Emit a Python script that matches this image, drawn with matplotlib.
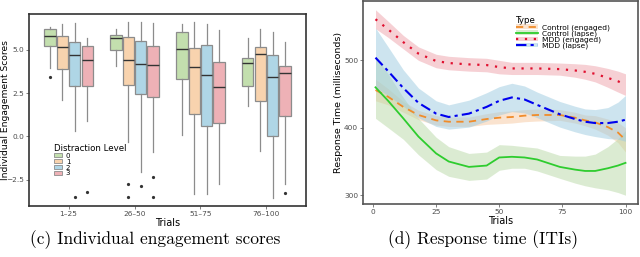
import matplotlib
matplotlib.use("Agg")
import matplotlib.pyplot as plt
from matplotlib.patches import Patch
from matplotlib.lines import Line2D

# ---------------- Data: panel (c) ----------------
groups = ["1\u201325", "26\u201350", "51\u201375", "76\u2013100"]
levels = ["0", "1", "2", "3"]
level_colors = ["#c3dfae", "#f8d3ae", "#afd6e6", "#eeb1b6"]
# each entry: (whislo, q1, med, q3, whishi, [outliers])
box_l0 = [(3.93, 5.19, 5.81, 6.20, 6.30, [3.41]),
          (4.07, 5.00, 5.64, 5.87, 6.20, []),
          (0.06, 3.31, 5.06, 6.03, 6.45, []),
          (1.76, 2.93, 4.22, 4.50, 5.68, [])]
box_l1 = [(2.09, 3.90, 5.16, 5.78, 6.49, []),
          (-0.33, 2.97, 4.42, 5.72, 6.59, [-2.75, -3.49]),
          (-3.29, 1.32, 3.99, 5.10, 6.59, []),
          (-0.85, 2.05, 4.75, 5.16, 6.20, [])]
box_l2 = [(0.29, 2.91, 4.67, 5.43, 6.55, [-3.49]),
          (-2.02, 2.44, 4.19, 5.48, 6.59, [-2.85]),
          (-3.33, 0.62, 3.53, 5.25, 6.49, []),
          (-3.53, 0.02, 3.45, 4.67, 6.03, [])]
box_l3 = [(0.89, 2.91, 4.42, 5.19, 5.68, [-3.18]),
          (-0.91, 2.29, 4.09, 5.19, 6.55, [-2.33, -3.49]),
          (-2.75, 0.79, 2.83, 4.28, 6.12, []),
          (-2.75, 1.18, 3.64, 4.03, 5.45, [-3.28])]
boxes = [box_l0, box_l1, box_l2, box_l3]

# ---------------- Data: panel (d) ----------------
types = ["Control (engaged)", "Control (lapse)", "MDD (engaged)", "MDD (lapse)"]
trials = [1, 6, 12, 18, 25, 30, 38, 45, 50, 55, 60, 65, 74, 80, 84, 88, 93, 97, 100]
ctrl_eng = [456, 446, 431, 419, 411, 409, 409, 413, 415, 416, 418, 419, 419, 415, 411, 408, 401, 393, 382]
ctrl_eng_lo = [440, 434, 423, 412, 404, 402, 402, 405, 406, 407, 409, 410, 411, 407, 403, 398, 389, 378, 364]
ctrl_eng_hi = [472, 458, 439, 426, 418, 416, 416, 421, 424, 425, 427, 428, 427, 423, 419, 418, 413, 408, 400]
ctrl_lap = [460, 440, 414, 387, 362, 350, 342, 344, 356, 357, 356, 353, 342, 338, 336, 336, 340, 344, 348]
ctrl_lap_lo = [414, 400, 383, 360, 338, 328, 322, 324, 337, 340, 340, 336, 325, 318, 314, 311, 308, 304, 300]
ctrl_lap_hi = [506, 480, 445, 414, 386, 372, 362, 364, 375, 374, 372, 370, 359, 358, 358, 361, 372, 384, 396]
mdd_eng = [561, 546, 527, 510, 499, 496, 494, 493, 490, 488, 488, 488, 487, 485, 483, 480, 474, 469, 464]
mdd_eng_lo = [547, 534, 517, 500, 489, 486, 484, 483, 480, 479, 479, 479, 478, 475, 472, 468, 460, 453, 448]
mdd_eng_hi = [575, 558, 537, 520, 509, 506, 504, 503, 500, 497, 497, 497, 496, 495, 494, 492, 488, 484, 480]
mdd_lap = [504, 484, 459, 437, 421, 416, 421, 431, 440, 445, 442, 434, 420, 413, 409, 407, 407, 409, 412]
mdd_lap_lo = [460, 448, 432, 415, 402, 398, 401, 410, 419, 424, 422, 415, 401, 394, 390, 387, 384, 383, 380]
mdd_lap_hi = [548, 520, 486, 459, 440, 434, 441, 452, 461, 466, 462, 453, 439, 432, 428, 427, 430, 438, 448]

fig = plt.figure(figsize=(6.4, 2.57), dpi=100)

tick_col = "#4d4d4d"
frame_col = "#333333"

# ---------------- Panel (c) ----------------
ax1 = fig.add_axes([29/640, 1 - 206/257, 277/640, 192/257])
offsets = [-0.28125, -0.09375, 0.09375, 0.28125]
for li, (lvl_boxes, col) in enumerate(zip(boxes, level_colors)):
    stats = []
    for g, b in enumerate(lvl_boxes):
        stats.append(dict(whislo=b[0], q1=b[1], med=b[2], q3=b[3], whishi=b[4], fliers=b[5]))
    pos = [g + 1 + offsets[li] for g in range(len(groups))]
    ax1.bxp(stats, positions=pos, widths=0.17, patch_artist=True, showcaps=False,
            boxprops=dict(facecolor=col, edgecolor="#8c8c8c", linewidth=0.9),
            medianprops=dict(color="#333333", linewidth=1.0),
            whiskerprops=dict(color="#8c8c8c", linewidth=0.9),
            flierprops=dict(marker="o", markersize=1.3, markerfacecolor="#333333",
                            markeredgecolor="#333333"),
            manage_ticks=False)
ax1.set_xlim(0.4, 4.6)
ax1.set_ylim(-4.0, 7.05)
ax1.set_xticks(range(1, 5))
ax1.set_xticklabels(groups)
ax1.set_yticks([-2.5, 0.0, 2.5, 5.0])
ax1.set_yticklabels(["\u22122.5", "0.0", "2.5", "5.0"])
ax1.tick_params(labelsize=5.3, colors=tick_col, length=2, width=0.5, pad=1.5)
for s in ax1.spines.values():
    s.set_color(frame_col)
    s.set_linewidth(1.2)
ax1.set_xlabel("Trials", fontsize=7, labelpad=1)
ax1.set_ylabel("Individual Engagement Scores", fontsize=6.6)
ax1.yaxis.set_label_coords(-0.068, 0.5)
h1 = [Patch(facecolor=c, edgecolor="#8c8c8c", linewidth=0.6) for c in level_colors]
leg1 = ax1.legend(h1, levels, title="Distraction Level", loc="upper left",
                  bbox_to_anchor=(0.075, 0.345), frameon=False, fontsize=5.0,
                  title_fontsize=6.2, handlelength=1.2, handleheight=0.5,
                  labelspacing=-0.02, handletextpad=0.5, borderpad=0.1)
leg1._legend_box.align = "left"

# ---------------- Panel (d) ----------------
ax2 = fig.add_axes([363/640, 1 - 204/257, 275/640, 203/257])
series = [
    (ctrl_eng, ctrl_eng_lo, ctrl_eng_hi, "#f08c2a", "#f7c9a0", (0, (4, 3)), 1.3),
    (ctrl_lap, ctrl_lap_lo, ctrl_lap_hi, "#2ecc2e", "#b9d9a6", "-", 1.3),
    (mdd_eng, mdd_eng_lo, mdd_eng_hi, "#e0102f", "#eea2aa", (0, (1, 3)), 1.6),
    (mdd_lap, mdd_lap_lo, mdd_lap_hi, "#0000ee", "#9ccbe0", (0, (5, 2, 1.5, 2)), 1.5),
]
handles = []
for y, lo, hi, lc, bc, ls, lw in series:
    ax2.fill_between(trials, lo, hi, color=bc, alpha=0.5, linewidth=0)
for y, lo, hi, lc, bc, ls, lw in series:
    ax2.plot(trials, y, color=lc, linestyle=ls, linewidth=lw)
    handles.append((Patch(facecolor=bc, alpha=0.5, edgecolor="none"),
                    Line2D([], [], color=lc, linestyle=ls, linewidth=lw)))
ax2.set_xlim(-3.95, 104.95)
ax2.set_ylim(287, 588)
ax2.set_xticks([0, 25, 50, 75, 100])
ax2.set_yticks([300, 400, 500])
ax2.tick_params(labelsize=5.3, colors=tick_col, length=2, width=0.5, pad=1.5)
for s in ax2.spines.values():
    s.set_color("#555555")
    s.set_linewidth(1.2)
ax2.set_xlabel("Trials", fontsize=7, labelpad=1)
ax2.set_ylabel("Response Time (milliseconds)", fontsize=6.8)
ax2.yaxis.set_label_coords(-0.073, 0.5)
leg2 = ax2.legend(handles, types, title="Type", loc="upper left",
                  bbox_to_anchor=(0.54, 0.95), frameon=False, fontsize=5.4,
                  title_fontsize=6.2, handlelength=2.9, handleheight=0.6,
                  labelspacing=-0.05, handletextpad=0.5, borderpad=0.1)
leg2._legend_box.align = "left"

# ---------------- Captions ----------------
fig.text(155/640, 1 - 240/257, "(c) Individual engagement scores", ha="center", va="center",
         fontsize=12.5, family="cmr10")
fig.text(483/640, 1 - 240/257, "(d) Response time (ITIs)", ha="center", va="center",
         fontsize=12.5, family="cmr10")

fig.savefig("out.png", dpi=100)
